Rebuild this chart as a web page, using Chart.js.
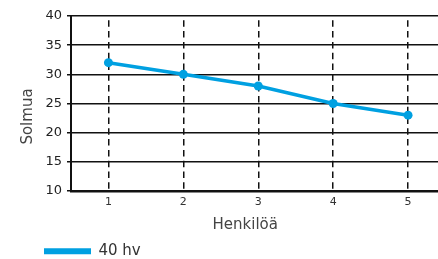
<!DOCTYPE html>
<html><head><meta charset="utf-8">
<script src="https://cdn.jsdelivr.net/npm/chart.js@4"></script>
<style>
html,body{margin:0;padding:0;background:#fff;overflow:hidden;}
#wrap{width:438px;height:259px;overflow:hidden;position:relative;}
canvas{display:block;}
</style></head><body>
<div id="wrap"><canvas id="c" width="450" height="259"></canvas></div>
<script>
const categories = ['1', '2', '3', '4', '5'];
const series40hv = [32, 30, 28, 25, 23];
const seriesLabel = '40 hv';
const yTickMin = 10, yTickMax = 40, yTickStep = 5;
const xTitle = 'Henkilöä';
const yTitle = 'Solmua';

const BLUE = '#00A0E1';
const FONT = "'DejaVu Sans', sans-serif";

const layoutTweaks = {
  id: 'layoutTweaks',
  afterLayout(chart) {
    const xs = chart.scales.x, ys = chart.scales.y;
    if (!xs._tw) {
      const ox = xs.drawTitle;
      xs.drawTitle = function () { const l = this.left, r = this.right; this.left -= 13; this.right -= 13; ox.call(this); this.left = l; this.right = r; };
      xs._tw = true;
    }
    if (!ys._tw) {
      const oy = ys.drawTitle;
      ys.drawTitle = function () { const t = this.top, b = this.bottom; this.top += 13; this.bottom += 13; oy.call(this); this.top = t; this.bottom = b; };
      ys._tw = true;
    }
  },
  beforeDraw(chart) {
    const lg = chart.legend;
    if (lg) { lg.left = 34; lg.top = 233.8; lg.right = 300; lg.bottom = 259; lg.width = 266; lg.height = 25.2; }
  }
};

new Chart(document.getElementById('c'), {
  type: 'line',
  data: {
    labels: categories,
    datasets: [{
      label: seriesLabel,
      data: series40hv,
      borderColor: BLUE,
      backgroundColor: BLUE,
      borderWidth: 3.5,
      pointRadius: 4.5,
      pointBackgroundColor: BLUE,
      pointBorderColor: BLUE,
      pointBorderWidth: 0,
      tension: 0,
      fill: false
    }]
  },
  options: {
    responsive: false,
    animation: false,
    devicePixelRatio: 1,
    layout: { padding: { top: 16, right: 2.5, bottom: 0, left: 0 } },
    plugins: {
      tooltip: { enabled: false },
      legend: {
        position: 'chartArea',
        align: 'start',
        labels: {
          boxWidth: 47,
          boxHeight: 6,
          padding: 10,
          color: '#333',
          font: { family: FONT, size: 15 },
          generateLabels(chart) {
            return Chart.defaults.plugins.legend.labels.generateLabels(chart).map(l => Object.assign(l, { lineWidth: 0 }));
          }
        }
      }
    },
    scales: {
      x: {
        type: 'category',
        offset: true,
        grid: { offset: false, drawTicks: false, color: '#111', lineWidth: 1.5 },
        border: { display: true, color: '#111', width: 2.5, dash: [6.5, 4.3], dashOffset: 6.5 },
        ticks: { color: '#333', font: { family: FONT, size: 11 }, padding: 5, maxRotation: 0 },
        title: { display: true, text: xTitle, color: '#444', font: { family: FONT, size: 15 }, padding: { top: 0, bottom: 24.5 } },
        afterFit(s) { s.height = 68; }
      },
      y: {
        min: yTickMin,
        max: yTickMax,
        grid: { color: '#111', lineWidth: 1.5, drawTicks: true, tickLength: 4 },
        border: { display: true, color: '#111', width: 2 },
        ticks: { stepSize: yTickStep, color: '#222', font: { family: FONT, size: 13 }, padding: 5 },
        title: { display: true, text: yTitle, color: '#444', font: { family: FONT, size: 15 }, padding: { top: 19, bottom: 0 } },
        afterFit(s) { s.width = 71; }
      }
    }
  },
  plugins: [layoutTweaks]
});
</script>
</body></html>
